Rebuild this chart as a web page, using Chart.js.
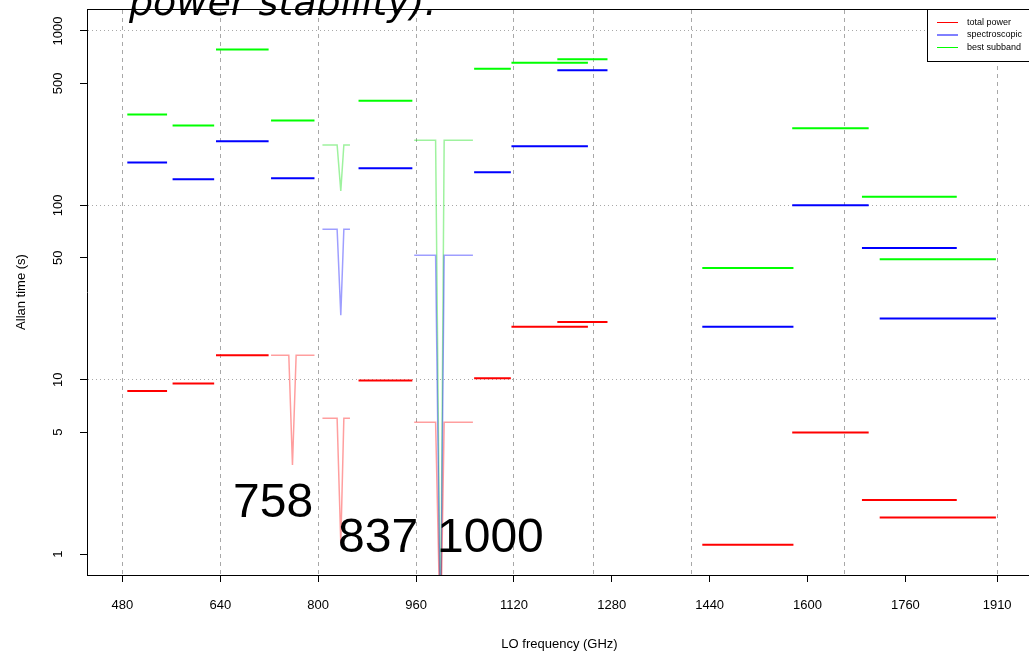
<!DOCTYPE html>
<html><head><meta charset="utf-8">
<script src="https://cdn.jsdelivr.net/npm/chart.js@4"></script>
<style>
html,body{margin:0;padding:0;overflow:hidden;background:#fff;width:1029px;height:653px}
#wrap{position:absolute;left:0;top:0;width:1040px;height:653px}
</style>
</head><body><div id="wrap"><canvas id="c" width="1040" height="653"></canvas></div>
<script>
// ---- data (GHz, seconds) ----
const bandStart = [488, 562, 633, 723, 807, 866, 957, 1055, 1116, 1191, 1428, 1575, 1689, 1718];
const bandEnd   = [553, 630, 719, 794, 852, 954, 1053, 1115, 1241, 1273, 1577, 1700, 1844, 1908];
const totalPower    = [8.6, 9.5, 13.8, 13.8, 6.0, 9.9, 5.7, 10.2, 20.1, 21.4, 1.13, 4.98, 2.04, 1.62];
const spectroscopic = [176, 141, 233, 143, 73, 163, 51.7, 155, 218, 596, 20.1, 100, 56.9, 22.4];
const bestSubband   = [332, 287, 783, 307, 222, 398, 236, 607, 657, 689, 43.7, 277, 112, 49.0];
// dips: band index, dip edges and centre (GHz)
const dipBand   = [3, 4, 6];
const dipLeft   = [752, 831, 992];
const dipCentre = [758, 837, 1000];
const dipRight  = [764, 842, 1006];
const dipTotalPower    = [3.24, 1.15, 0.3];
const dipSpectroscopic = [null, 23.4, 0.3];
const dipBestSubband   = [null, 121, 0.3];
const dipLabels = ['758', '837', '1000'];
const xTicks = [480, 640, 800, 960, 1120, 1280, 1440, 1600, 1760, 1910];
const xGrid  = [480, 640, 800, 960, 1120, 1250, 1410, 1660, 1910];
const yTicks = [1, 5, 10, 50, 100, 500, 1000];
const yGrid  = [10, 100, 1000];
const seriesNames = ['total power', 'spectroscopic', 'best subband'];
const seriesColors = ['#ff0000', '#0000ff', '#00ff00'];
const seriesLight = ['rgba(255,0,0,0.38)', 'rgba(0,0,255,0.38)', 'rgba(0,220,0,0.38)'];

function build(values, dips) {
  const solid = [], light = [];
  values.forEach((v, i) => {
    const k = dipBand.indexOf(i);
    if (k >= 0 && dips[k] != null) {
      light.push({x: bandStart[i], y: v}, {x: dipLeft[k], y: v}, {x: dipCentre[k], y: dips[k]},
                 {x: dipRight[k], y: v}, {x: bandEnd[i], y: v}, {x: bandEnd[i], y: null});
    } else {
      solid.push({x: bandStart[i], y: v}, {x: bandEnd[i], y: v}, {x: bandEnd[i], y: null});
    }
  });
  return {solid, light};
}
const series = [build(totalPower, dipTotalPower), build(spectroscopic, dipSpectroscopic), build(bestSubband, dipBestSubband)];
const datasets = [];
series.forEach((s, i) => {
  datasets.push({label: seriesNames[i] + ' dip', data: s.light, borderColor: seriesLight[i], borderWidth: 1.5});
});
series.forEach((s, i) => {
  datasets.push({label: seriesNames[i], data: s.solid, borderColor: seriesColors[i], borderWidth: 2});
});
datasets.forEach(d => Object.assign(d, {pointRadius: 0, tension: 0, spanGaps: false, clip: 0, fill: false}));

Chart.defaults.font.family = "'Liberation Sans', Arial, sans-serif";
Chart.defaults.color = '#000';

const decor = {
  id: 'decor',
  afterDraw(chart) {
    const ctx = chart.ctx, y = chart.scales.y;
    ctx.save();
    // y tick labels (rotated, R style)
    ctx.fillStyle = '#000';
    ctx.font = "13px 'Liberation Sans', Arial";
    ctx.textAlign = 'center'; ctx.textBaseline = 'middle';
    yTicks.forEach(v => {
      ctx.save();
      ctx.translate(58, y.getPixelForValue(v));
      ctx.rotate(-Math.PI / 2);
      ctx.fillText(String(v), 0, 0);
      ctx.restore();
    });
    // dip labels
    ctx.font = "48px 'Liberation Sans', Arial";
    ctx.textAlign = 'left'; ctx.textBaseline = 'alphabetic';
    const labPos = [[233, 517], [338, 552], [437, 552]];
    dipLabels.forEach((t, i) => ctx.fillText(t, labPos[i][0], labPos[i][1]));
    // overflowing slide text
    ctx.font = "oblique 38px 'DejaVu Sans'";
    ctx.fillText('power stability).', 129, 15);
    // legend
    const lx = 927.5, ly = 9.5, lw = 104, lh = 52;
    ctx.fillStyle = '#fff'; ctx.fillRect(lx, ly, lw, lh);
    ctx.strokeStyle = '#000'; ctx.lineWidth = 1; ctx.strokeRect(lx, ly, lw, lh);
    ctx.font = "9px 'Liberation Sans', Arial";
    ctx.textBaseline = 'middle';
    seriesNames.forEach((n, i) => {
      const yy = 22.5 + i * 12.5;
      ctx.strokeStyle = seriesColors[i];
      ctx.beginPath(); ctx.moveTo(937, yy); ctx.lineTo(958, yy); ctx.stroke();
      ctx.fillStyle = '#000';
      ctx.fillText(n, 967, yy);
    });
    ctx.restore();
  }
};

new Chart(document.getElementById('c'), {
  type: 'line',
  data: {datasets},
  options: {
    responsive: false, animation: false, devicePixelRatio: 1,
    layout: {padding: {top: 9, right: 8, left: 0, bottom: 0}},
    plugins: {legend: {display: false}, tooltip: {enabled: false}},
    scales: {
      x: {
        type: 'linear', position: 'bottom', min: 422.1, max: 1967,
        afterBuildTicks: s => { s.ticks = xTicks.map(v => ({value: v})); },
        afterFit: s => { s.height = 78; },
        ticks: {autoSkip: false, maxRotation: 0, padding: 16, font: {size: 13}, color: '#000',
                callback: v => String(v)},
        grid: {drawOnChartArea: false, drawTicks: true, tickLength: 7, color: '#000', tickColor: '#000'},
        border: {display: true, color: '#000', width: 1},
        title: {display: true, text: 'LO frequency (GHz)', font: {size: 13}, color: '#000', padding: {top: 0, bottom: 1}}
      },
      x2: {
        type: 'linear', position: 'top', min: 422.1, max: 1967,
        afterBuildTicks: s => { s.ticks = xGrid.map(v => ({value: v})); },
        afterFit: s => { s.height = 0; },
        ticks: {display: false},
        grid: {drawOnChartArea: true, drawTicks: false, color: '#a8a8a8', lineWidth: 1},
        border: {display: true, color: '#000', width: 1, dash: [4, 4]}
      },
      y: {
        type: 'logarithmic', position: 'left', min: 0.758, max: 1337,
        afterBuildTicks: s => { s.ticks = yTicks.map(v => ({value: v})); },
        afterFit: s => { s.width = 87; },
        ticks: {display: false},
        grid: {drawOnChartArea: true, drawTicks: true, tickLength: 7, tickColor: '#000',
               color: c => (c.tick && yGrid.includes(c.tick.value)) ? '#a8a8a8' : 'rgba(0,0,0,0)'},
        border: {display: true, color: '#000', width: 1, dash: [1, 3]},
        title: {display: true, text: 'Allan time (s)', font: {size: 13}, color: '#000', padding: {top: 14, bottom: 0}}
      }
    }
  },
  plugins: [decor]
});
</script>
</body></html>
